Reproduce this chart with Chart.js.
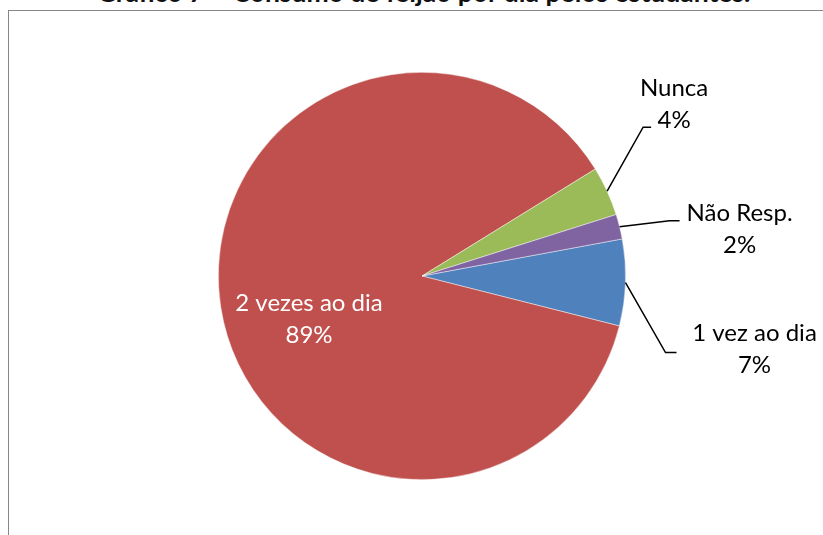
<!DOCTYPE html>
<html><head><meta charset="utf-8">
<script src="https://cdn.jsdelivr.net/npm/chart.js@4"></script>
<style>
html,body{margin:0;padding:0;width:823px;height:535px;overflow:hidden;background:#fff;}
#title{position:absolute;left:12px;top:-21px;width:823px;text-align:center;font:bold 26.5px Lato, "Noto Sans", sans-serif;color:#111;white-space:nowrap;line-height:27px;}
#frame{position:absolute;left:8px;top:10px;width:900px;height:600px;border-left:1.5px solid #878787;border-top:1.5px solid #878787;}
#c{position:absolute;left:0;top:0;}
</style></head>
<body>
<div id="title">Gráfico 7 – Consumo de feijão por dia pelos estudantes.</div>
<div id="frame"></div>
<canvas id="c" width="823" height="535"></canvas>
<script>
const categories = ['1 vez ao dia', '2 vezes ao dia', 'Nunca', 'Não Resp.'];
const values = [7, 89, 4, 2];
const percentLabels = ['7%', '89%', '4%', '2%'];
const colors = ['#4F81BD', '#C0504D', '#9BBB59', '#8064A2'];

// label layout (styles/offsets only)
const labelLayout = [
  { inside: false, elbow: [40, 70], tail: 11, text: [129, 67] },
  { inside: true, center: [-113, 43] },
  { inside: false, elbow: [36, -64], tail: 8, text: [67, -87] },
  { inside: false, elbow: [50, -6], tail: 10, text: [120, 3] }
];
const labelFont = '24px Lato, "Noto Sans", sans-serif';
const lineGap = 32;

const labelPlugin = {
  id: 'excelLabels',
  afterDatasetsDraw(chart) {
    const ctx = chart.ctx;
    const meta = chart.getDatasetMeta(0);
    ctx.save();
    ctx.font = labelFont;
    ctx.textAlign = 'center';
    ctx.textBaseline = 'middle';
    meta.data.forEach((arc, i) => {
      const p = arc.getProps(['x', 'y', 'startAngle', 'endAngle', 'outerRadius'], true);
      const mid = (p.startAngle + p.endAngle) / 2;
      const lay = labelLayout[i];
      let cx, cy;
      if (lay.inside) {
        cx = p.x + lay.center[0];
        cy = p.y + lay.center[1];
        ctx.fillStyle = '#ffffff';
      } else {
        const ax = p.x + p.outerRadius * Math.cos(mid);
        const ay = p.y + p.outerRadius * Math.sin(mid);
        const ex = ax + lay.elbow[0], ey = ay + lay.elbow[1];
        ctx.strokeStyle = '#000';
        ctx.lineWidth = 1.5;
        ctx.beginPath();
        ctx.moveTo(ax, ay);
        ctx.lineTo(ex, ey);
        ctx.lineTo(ex + lay.tail, ey);
        ctx.stroke();
        cx = ax + lay.text[0];
        cy = ay + lay.text[1];
        ctx.fillStyle = '#000';
      }
      ctx.fillText(categories[i], cx, cy - lineGap / 2);
      ctx.fillText(percentLabels[i], cx, cy + lineGap / 2);
    });
    ctx.restore();
  }
};

new Chart(document.getElementById('c'), {
  type: 'pie',
  data: {
    labels: categories,
    datasets: [{
      data: values,
      backgroundColor: colors,
      borderColor: 'rgba(255,255,255,0.6)',
      borderWidth: 0.75
    }]
  },
  options: {
    responsive: false,
    animation: false,
    rotation: 79.5,
    layout: { padding: { left: 218, right: 197, top: 72, bottom: 55 } },
    plugins: { legend: { display: false }, tooltip: { enabled: false }, title: { display: false } }
  },
  plugins: [labelPlugin]
});
</script>
</body></html>
